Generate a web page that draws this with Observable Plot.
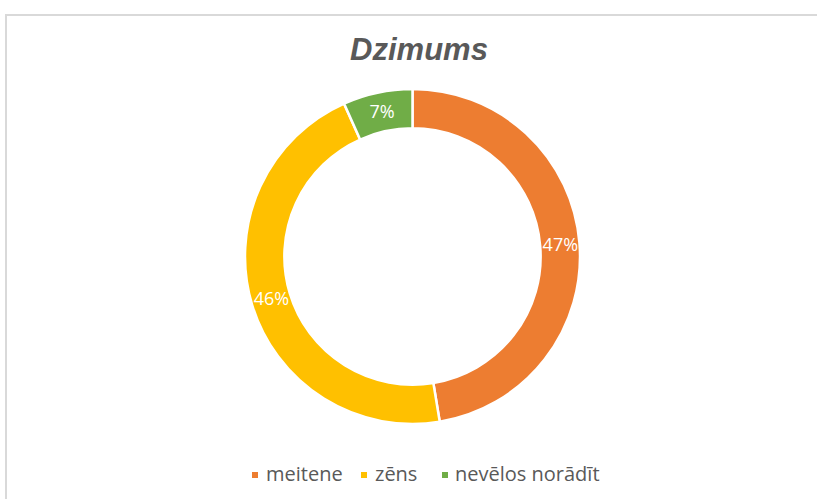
<!DOCTYPE html>
<html>
<head>
<meta charset="utf-8">
<script src="https://cdn.jsdelivr.net/npm/d3@7"></script>
<script src="https://cdn.jsdelivr.net/npm/@observablehq/plot@0.6"></script>
<style>
  html, body { margin: 0; padding: 0; background: #fff; }
  body { width: 817px; height: 499px; position: relative; overflow: hidden; font-family: "Liberation Sans", Arial, sans-serif; }
  #frame { position: absolute; left: 5px; top: 14px; width: 830px; height: 500px; border-top: 2px solid #d9d9d9; border-left: 2px solid #d9d9d9; box-sizing: border-box; }
  #title { position: absolute; left: 0; width: 838px; top: 32px; text-align: center; font-size: 31px; font-weight: bold; font-style: italic; color: #595959; }
  #chart { position: absolute; left: 0; top: 0; }
  #legend { position: absolute; top: 0; left: 0; font-size: 20px; color: #595959; font-family: "Open Sans", sans-serif; }
  #legend .sw { position: absolute; width: 6px; height: 6px; top: 472px; }
  #legend .tx { position: absolute; top: 460px; white-space: nowrap; }
</style>
</head>
<body>
<div id="frame"></div>
<div id="title">Dzimums</div>
<div id="chart"></div>
<div id="legend"></div>
<script>
const categories = ["meitene", "zēns", "nevēlos norādīt"];
const values = [47.4, 45.9, 6.7];
const valueLabels = ["47%", "46%", "7%"];
const colors = ["#ED7D31", "#FFC000", "#70AD47"];

const cx = 412.5, cy = 256.5, R = 167.5, innerRatio = 0.765;

const pie = d3.pie().sort(null).value(d => d)(values);
const midR = (1 + innerRatio) / 2;
const labelData = pie.map((a, i) => {
  const m = (a.startAngle + a.endAngle) / 2;
  return { x: Math.sin(m) * midR, y: Math.cos(m) * midR, label: valueLabels[i], cat: categories[i] };
});

function ring(index, scales, vals, dims, context) {
  const ox = scales.x(0), oy = scales.y(0), rad = scales.x(1) - ox;
  const arc = d3.arc().innerRadius(rad * innerRatio).outerRadius(rad);
  const g = d3.create("svg:g").attr("transform", `translate(${ox},${oy})`);
  g.selectAll("path").data(pie).join("path")
    .attr("d", arc)
    .attr("fill", (d, i) => colors[i])
    .attr("stroke", "white")
    .attr("stroke-width", 2.5)
    .attr("stroke-linejoin", "miter");
  return g.node();
}

const chart = Plot.plot({
  width: 817,
  height: 499,
  margin: 0,
  x: { domain: [-1, 1], range: [cx - R, cx + R], axis: null },
  y: { domain: [-1, 1], range: [cy + R, cy - R], axis: null },
  style: { background: "transparent" },
  marks: [
    ring,
    Plot.text(labelData, {
      x: "x", y: "y", text: "label",
      fill: "white", fontSize: 18, fontFamily: "Open Sans, sans-serif"
    })
  ]
});
document.getElementById("chart").appendChild(chart);

const legendSwatchX = [252, 361, 442];
const legendTextX = [266, 375, 455];
const legend = document.getElementById("legend");
categories.forEach((c, i) => {
  const sw = document.createElement("div");
  sw.className = "sw";
  sw.style.left = legendSwatchX[i] + "px";
  sw.style.background = colors[i];
  const t = document.createElement("div");
  t.className = "tx";
  t.style.left = legendTextX[i] + "px";
  t.textContent = c;
  legend.appendChild(sw); legend.appendChild(t);
});
</script>
</body>
</html>
